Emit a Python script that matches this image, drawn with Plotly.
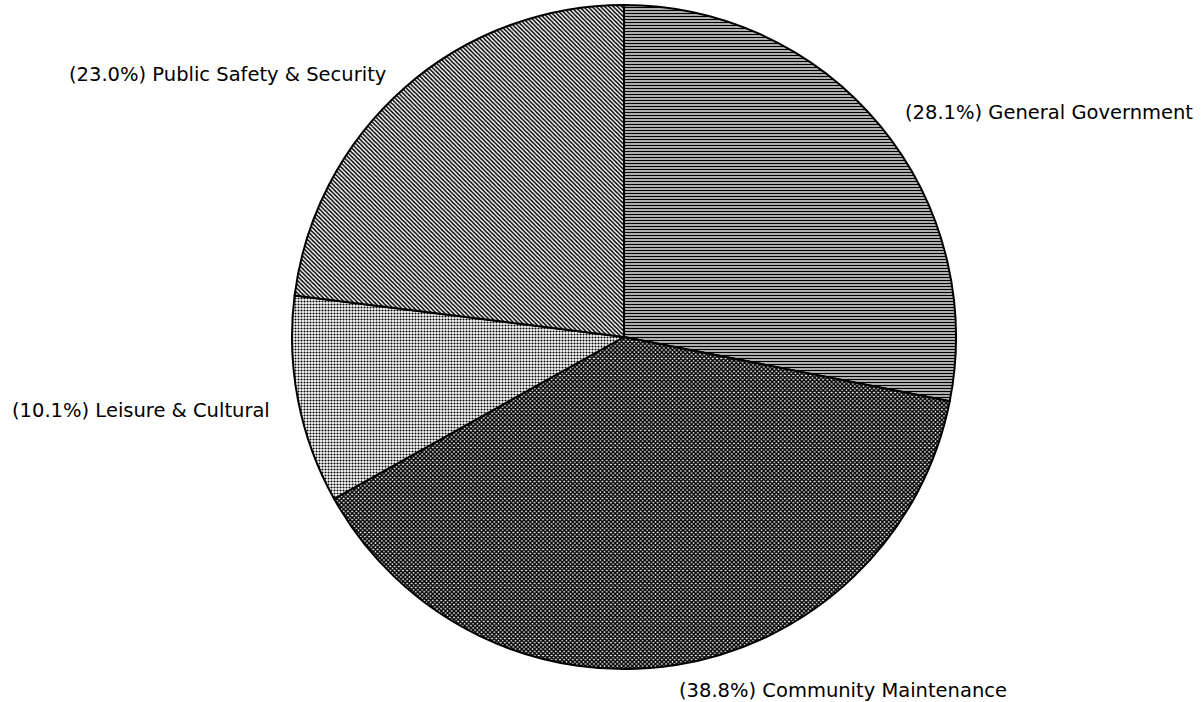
import plotly.graph_objects as go

# Budget share by function, clockwise from 12 o'clock
categories = ["General Government", "Community Maintenance", "Leisure & Cultural", "Public Safety & Security"]
shares = [28.1, 38.8, 10.1, 23.0]

# Halftone-like fills for each slice
pattern_shapes = ["-", "x", ".", "\\"]
pattern_solidity = [0.55, 0.75, 0.4, 0.5]

# Label anchor positions (pixels from left / top of the 1204x702 page)
label_px = [(903, 112), (677, 690), (10, 410), (67, 74)]

W, H = 1204, 702

fig = go.Figure(
    go.Pie(
        labels=categories,
        values=shares,
        sort=False,
        direction="clockwise",
        rotation=0,
        textinfo="none",
        hoverinfo="label+percent",
        showlegend=False,
        domain=dict(x=[292 / W, 956 / W], y=[1 - 669 / H, 1 - 5 / H]),
        marker=dict(
            colors=["white"] * 4,
            line=dict(color="black", width=2),
            pattern=dict(
                shape=pattern_shapes,
                fgcolor="black",
                bgcolor="white",
                size=3,
                solidity=pattern_solidity,
            ),
        ),
    )
)

annotations = []
for cat, val, (px, py) in zip(categories, shares, label_px):
    annotations.append(
        dict(
            text=f"({val:.1f}%) {cat}",
            x=px / W,
            y=1 - py / H,
            xref="paper",
            yref="paper",
            xanchor="left",
            yanchor="middle",
            showarrow=False,
            font=dict(family="DejaVu Sans", size=19.5, color="black"),
        )
    )

fig.update_layout(
    width=W,
    height=H,
    margin=dict(l=0, r=0, t=0, b=0),
    paper_bgcolor="white",
    plot_bgcolor="white",
    annotations=annotations,
)

fig.write_html("out.html")
